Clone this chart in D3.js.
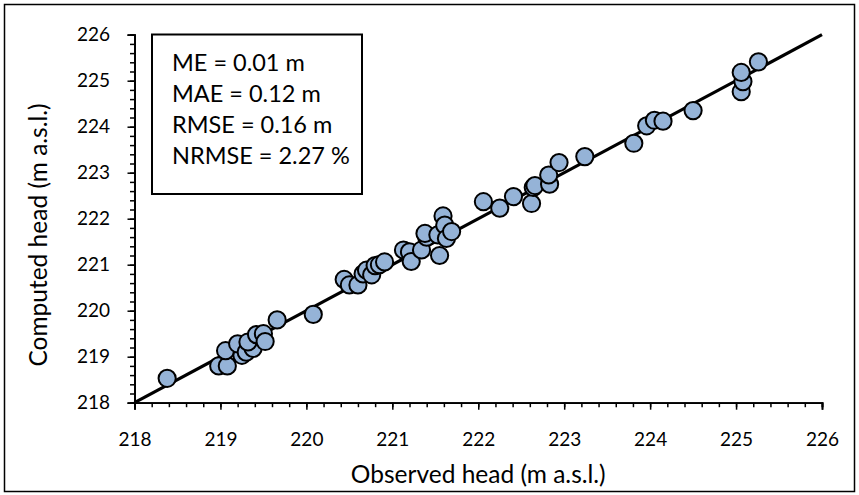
<!DOCTYPE html>
<html>
<head>
<meta charset="utf-8">
<script src="https://cdn.jsdelivr.net/npm/d3@7/dist/d3.min.js"></script>
<style>
  html, body { margin: 0; padding: 0; background: #fff; }
  svg text { font-family: Lato, "Open Sans", sans-serif; fill: #000; }
</style>
</head>
<body>
<svg id="chart" width="859" height="495"></svg>
<script>
// Observed head (m a.s.l.)
const observed = [
  218.38, 218.98, 219.08, 219.06, 219.25, 219.20, 219.30, 219.38, 219.32, 219.42,
  219.50, 219.52, 219.66, 220.08, 220.44, 220.50, 220.60, 220.66, 220.70, 220.76,
  220.80, 220.85, 220.91, 221.13, 221.20, 221.22, 221.34, 221.40, 221.38, 221.53,
  221.55, 221.59, 221.61, 221.63, 221.69, 222.06, 222.25, 222.41, 222.62, 222.64,
  222.66, 222.83, 222.82, 222.94, 223.24, 223.81, 223.96, 224.05, 224.15, 224.50,
  225.06, 225.08, 225.06, 225.26
];
// Computed head (m a.s.l.)
const computed = [
  218.53, 218.80, 218.80, 219.13, 219.03, 219.28, 219.10, 219.18, 219.32, 219.48,
  219.50, 219.33, 219.80, 219.92, 220.68, 220.56, 220.56, 220.80, 220.88, 220.78,
  220.98, 221.00, 221.06, 221.32, 221.28, 221.07, 221.32, 221.60, 221.68, 221.65,
  221.20, 222.06, 221.86, 221.57, 221.72, 222.37, 222.23, 222.48, 222.33, 222.68,
  222.72, 222.75, 222.95, 223.22, 223.35, 223.64, 224.02, 224.14, 224.12, 224.35,
  224.76, 224.98, 225.18, 225.41
];
const axisDomain = [218, 226];
const majorTicks = [218, 219, 220, 221, 222, 223, 224, 225, 226];
const stats = ["ME = 0.01 m", "MAE = 0.12 m", "RMSE = 0.16 m", "NRMSE = 2.27 %"];
const xTitle = "Observed head (m a.s.l.)";
const yTitle = "Computed head (m a.s.l.)";

const svg = d3.select("#chart");
const L = 134.5, R = 822, T = 34.7, B = 402.7;
const x = d3.scaleLinear().domain(axisDomain).range([L, R]);
const y = d3.scaleLinear().domain(axisDomain).range([B, T]);
const minorTicks = d3.range(0, 41).map(i => 218 + i * 0.2);

// outer border
svg.append("rect").attr("x", 4.5).attr("y", 4.5).attr("width", 850).attr("height", 487)
  .attr("fill", "none").attr("stroke", "#000").attr("stroke-width", 1.5);

// minor ticks
svg.append("g").attr("transform", `translate(0,${B})`)
  .call(d3.axisBottom(x).tickValues(minorTicks).tickSize(4.5).tickFormat(""));
svg.append("g").attr("transform", `translate(0,${B})`)
  .call(d3.axisBottom(x).tickValues(majorTicks).tickSize(7).tickPadding(23).tickFormat(d3.format("d")));
svg.append("g").attr("transform", `translate(${L},0)`)
  .call(d3.axisLeft(y).tickValues(minorTicks).tickSize(4.5).tickFormat(""));
svg.append("g").attr("transform", `translate(${L},0)`)
  .call(d3.axisLeft(y).tickValues(majorTicks).tickSize(7).tickPadding(17.5).tickFormat(d3.format("d")));
svg.selectAll(".domain").attr("stroke", "#000").attr("stroke-width", 1.8);
svg.selectAll(".tick line").attr("stroke", "#000").attr("stroke-width", 1.5);
svg.selectAll(".tick text").attr("font-size", 19).attr("font-family", "Lato, sans-serif");

// 1:1 line
svg.append("line")
  .attr("x1", x(axisDomain[0])).attr("y1", y(axisDomain[0]))
  .attr("x2", x(axisDomain[1])).attr("y2", y(axisDomain[1]))
  .attr("stroke", "#000").attr("stroke-width", 3.2);

// points
svg.append("g").selectAll("circle").data(observed.map((o, i) => [o, computed[i]]))
  .join("circle")
  .attr("cx", d => x(d[0])).attr("cy", d => y(d[1])).attr("r", 8.6)
  .attr("fill", "#95b3d7").attr("stroke", "#000").attr("stroke-width", 2);

// stats box
svg.append("rect").attr("x", 152).attr("y", 34.5).attr("width", 210).attr("height", 159.5)
  .attr("fill", "#fff").attr("stroke", "#000").attr("stroke-width", 2);
svg.append("g").selectAll("text").data(stats).join("text")
  .attr("x", 172).attr("y", (d, i) => 70.7 + i * 31.1)
  .attr("font-size", 23.5).text(d => d);

// axis titles
svg.append("text").attr("x", (L + R) / 2).attr("y", 483).attr("text-anchor", "middle")
  .attr("font-size", 24.5).text(xTitle);
svg.append("text").attr("transform", `translate(47,235) rotate(-90)`)
  .attr("text-anchor", "middle").attr("font-size", 24.5).text(yTitle);
</script>
</body>
</html>
